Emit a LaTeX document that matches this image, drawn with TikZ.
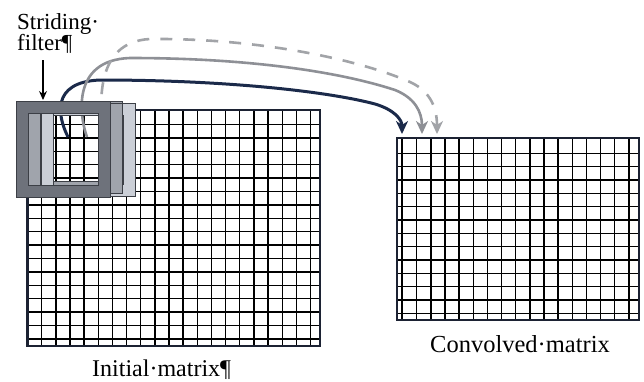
\documentclass[tikz,border=0pt]{standalone}
\usepackage{fontspec}
\setmainfont{Liberation Serif}
\usetikzlibrary{arrows.meta}
\definecolor{navy}{HTML}{1B2A4A}
\definecolor{bordercol}{HTML}{1C2233}
\definecolor{arrgray}{HTML}{8E9096}
\definecolor{dashgray}{HTML}{A2A4A8}
\definecolor{framedark}{HTML}{6E727B}
\definecolor{framemid}{HTML}{A0A4AC}
\definecolor{framelight}{HTML}{CBCFD7}
\definecolor{frameedge}{HTML}{3C3F46}
\tikzset{
  gridline/.style={line width=1.4pt, black},
  mborder/.style={line width=2.6pt, bordercol},
  label/.style={anchor=base west, inner sep=0pt, font=\fontsize{23}{27}\selectfont},
  bigarrow/.style={line width=3pt, -{Stealth[length=13pt,width=12pt,inset=4pt]}},
  framebox/.style={even odd rule, draw=frameedge, line width=0.8pt},
}
\begin{document}
\begin{tikzpicture}[x=1pt,y=-1pt]
\useasboundingbox (0,0) rectangle (644,381);
\fill[white] (0,0) rectangle (644,381);

% initial matrix
\foreach \i in {1,...,20} \draw[gridline] ({27.5+14.15*\i},110) -- ({27.5+14.15*\i},346);
\foreach \j in {0,...,16} \draw[gridline] (27.5,{124.5+13.4*\j}) -- (320,{124.5+13.4*\j});
\draw[mborder] (27.5,110) rectangle (320,346);

% convolved matrix
\draw[gridline] (402,138) -- (402,320);
\foreach \i in {0,...,15} \draw[gridline] ({416.7+14.14*\i},138) -- ({416.7+14.14*\i},320);
\foreach \j in {0,...,12} \draw[gridline] (397,{153.3+13.33*\j}) -- (639,{153.3+13.33*\j});
\draw[mborder] (397,138) rectangle (639,320);

% named coordinates for connectors
\coordinate (s1) at (68,137);
\coordinate (s2) at (87,137);
\coordinate (s3) at (104,140);
\coordinate (t1) at (402,134);
\coordinate (t2) at (422,134);
\coordinate (t3) at (437,134);

% arrows (drawn below the filter frames)
\draw[bigarrow, navy] (s1) .. controls (58,117) and (50,82) .. (100,80)
  .. controls (230,80) and (330,92) .. (375,104)
  .. controls (395,110) and (402,120) .. (t1);
\draw[bigarrow, arrgray, line width=2.6pt] (s2) .. controls (80,118) and (70,60) .. (130,58)
  .. controls (250,58) and (340,72) .. (395,90)
  .. controls (415,98) and (422,112) .. (t2);
\draw[bigarrow, dashgray, line width=2.6pt, dash pattern=on 12pt off 11pt] (s3) .. controls (100,110) and (92,42) .. (150,39)
  .. controls (260,38) and (360,60) .. (410,82)
  .. controls (432,92) and (437,110) .. (t3);

% filter frames (stacked positions)
\fill[framebox, fill=framelight] (41,103) rectangle (135,196) (53,115) rectangle (123,184);
\fill[framebox, fill=framemid] (28,101) rectangle (122,193) (40,113) rectangle (110,181);
\filldraw[framebox, fill=framemid] (28,113) rectangle (40,185);
\filldraw[framebox, fill=framelight] (41,113) rectangle (53,185);
\filldraw[framebox, fill=framedark] (16,101) rectangle (110,197) (28,113) rectangle (98,185);
\draw[framebox] (41,103) rectangle (135,196);
\draw[framebox] (28,101) rectangle (122,193);
\filldraw[framebox, fill=framedark] (16,101) rectangle (110,197) (28,113) rectangle (98,185);

% labels
\node[label] (lbl1) at (17,29) {Striding·};
\node[label] (lbl2) at (17,50) {filter¶};
\coordinate (ftop) at (43,60);
\coordinate (ftip) at (43,100);
\draw[line width=1.2pt, -{Stealth[length=9pt,width=8pt,inset=3pt]}] (ftop) -- (ftip);
\node[label, font=\fontsize{24}{28}\selectfont] (lblinit) at (92,376) {Initial·matrix¶};
\node[label, font=\fontsize{24.5}{28}\selectfont] (lblconv) at (430,352) {Convolved·matrix};
\end{tikzpicture}
\end{document}
